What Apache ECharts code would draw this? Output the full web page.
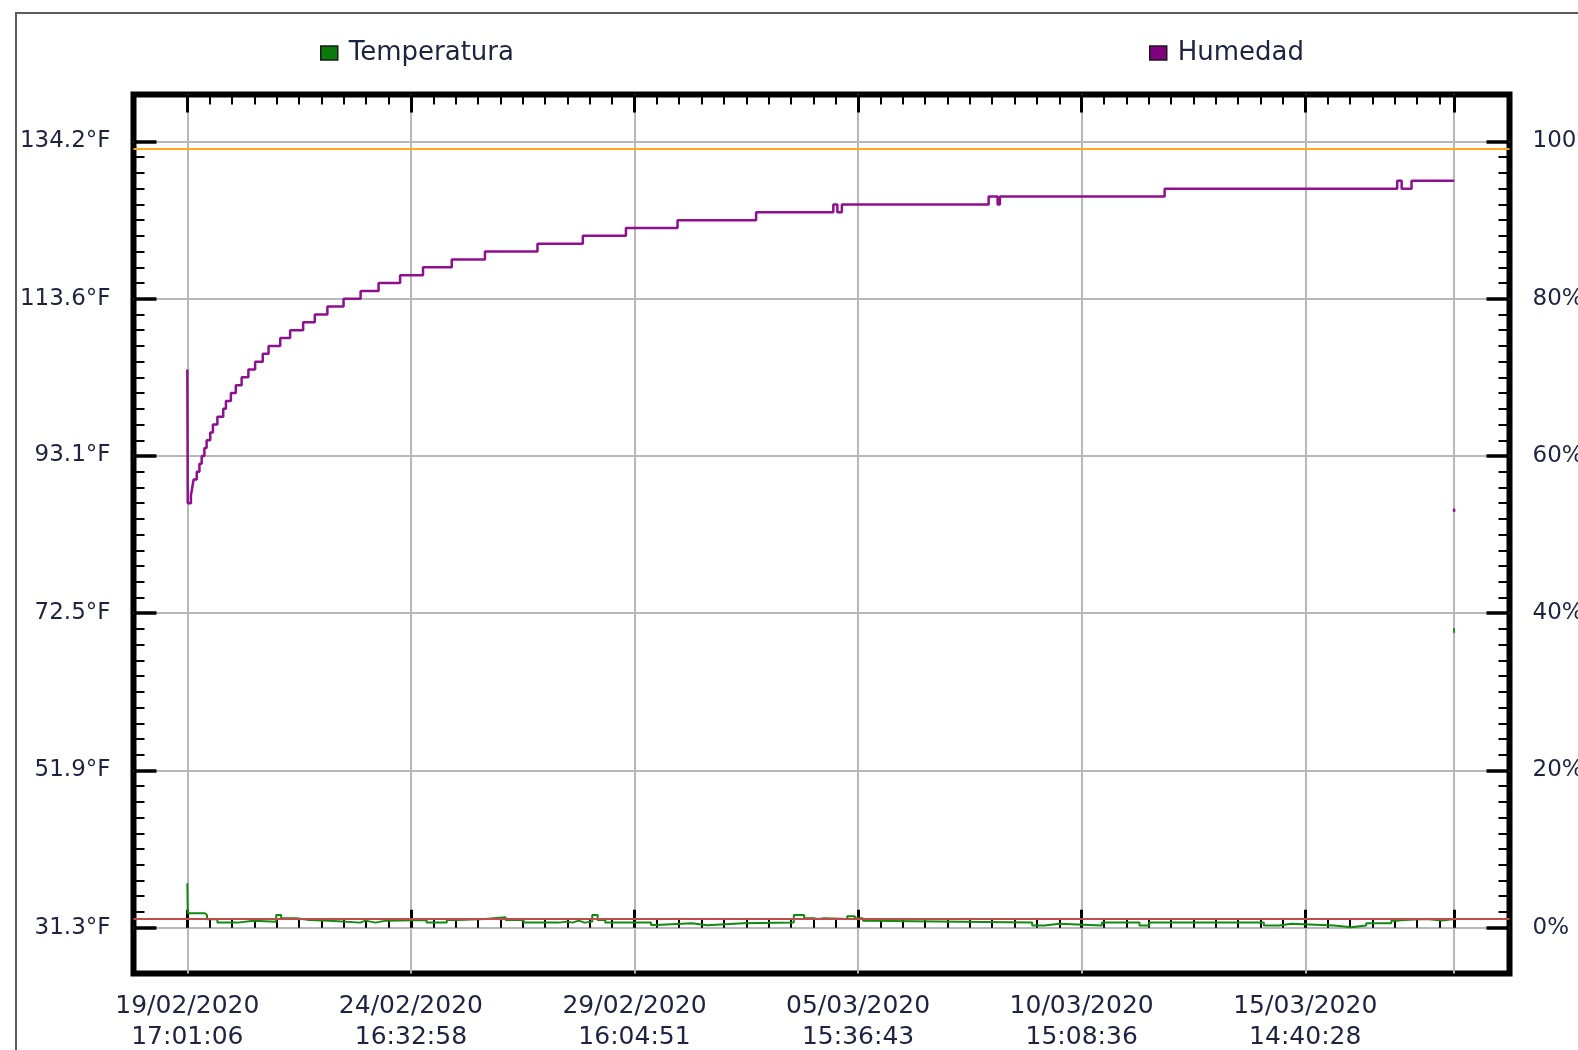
<!DOCTYPE html>
<html>
<head>
<meta charset="utf-8">
<title>Temperatura / Humedad</title>
<script src="https://cdn.jsdelivr.net/npm/echarts@6/dist/echarts.min.js"></script>
<style>
  html, body { margin: 0; padding: 0; background: #fff; }
  #chart { width: 1578px; height: 1050px; }
</style>
</head>
<body>
<div id="chart"></div>
<script>
// tick labels
var xTickLabels = ['19/02/2020 17:01:06', '24/02/2020 16:32:58', '29/02/2020 16:04:51',
  '05/03/2020 15:36:43', '10/03/2020 15:08:36', '15/03/2020 14:40:28'];
var yLeftTickValues = [31.3, 51.9, 72.5, 93.1, 113.6, 134.2];
var yLeftTickLabels = ['31.3°F', '51.9°F', '72.5°F', '93.1°F', '113.6°F', '134.2°F'];
var yRightTickValues = [0, 20, 40, 60, 80, 100];
var yRightTickLabels = ['0%', '20%', '40%', '60%', '80%', '100%'];

// humidity (%) - days since first sample
var humDays = [0, 0.01, 0.08, 0.11, 0.14, 0.21, 0.27, 0.32, 0.38, 0.43, 0.51, 0.57, 0.67, 0.80, 0.86,
  0.97, 1.08, 1.21, 1.36, 1.51, 1.68, 1.81, 2.07, 2.29, 2.58, 2.84, 3.12, 3.48, 3.86, 4.26,
  4.74, 5.25, 5.89, 6.63, 7.80, 8.81, 9.77, 10.92, 12.67, 14.39, 14.48, 14.58, 17.85, 18.05,
  18.10, 21.77, 26.95, 27.05, 27.27, 28.22, 28.22, 28.215, 28.22];
var humValues = [71, 54, 55, 56, 57, 58, 59, 60, 61, 62, 63, 64, 65, 66, 67,
  68, 69, 70, 71, 72, 73, 74, 75, 76, 77, 78, 79, 80, 81, 82,
  83, 84, 85, 86, 87, 88, 89, 90, 91, 92, 91, 92, 93, 92,
  93, 94, 95, 94, 95, 95, null, 53.3, 52.9];

// temperature (°F) - days since first sample
var tempDays = [0, 0.01, 0.39, 0.44, 0.67, 1.12, 1.47, 1.98, 2.09, 2.43, 2.72, 3.17, 3.85, 3.97,
  4.19, 4.42, 5.33, 5.78, 6.01, 6.64, 7.09, 7.49, 8.28, 8.45, 8.58, 8.72, 8.85, 9.02, 9.14,
  9.31, 10.33, 10.44, 11.24, 11.58, 12.38, 13.51, 13.74, 13.95, 14.05, 14.19, 14.70, 14.87,
  15.05, 15.15, 18.82, 19.09, 19.43, 20.37, 21.21, 21.43, 23.98, 24.32, 24.59, 25.54, 25.93,
  26.26, 26.82, 26.93, 27.10, 27.60, 27.95, 28.22, 28.22, 28.215, 28.22];
var tempValues = [37.1, 33.18, 32.96, 32.40, 31.96, 32.22, 32.09, 32.96, 32.53, 32.31, 32.22, 31.96, 32.22, 31.96,
  32.22, 32.31, 31.96, 32.31, 32.44, 32.66, 32.31, 31.96, 32.09, 31.96, 32.22, 31.96, 32.09, 32.96, 32.31,
  31.96, 31.65, 31.87, 31.61, 31.87, 31.96, 32.96, 32.53, 32.44, 32.53, 32.44, 32.80, 32.53,
  32.22, 31.96, 31.57, 31.80, 31.57, 31.96, 31.57, 31.96, 31.57, 31.80, 31.57, 31.35, 31.57,
  31.87, 32.22, 32.30, 32.44, 32.25, 32.44, 32.44, null, 70.5, 69.9];

// alarm lines (°F)
var alarmLow = 32.44;
var alarmHigh = 133.2;

var DAY = 86400000;
var DATA_END_DAYS = 28.22;

function parseStamp(s) {
  var p = s.split(' ');
  var d = p[0].split('/').map(Number);
  var t = p[1].split(':').map(Number);
  return Date.UTC(d[2], d[1] - 1, d[0], t[0], t[1], t[2]);
}
function pad(n) { return (n < 10 ? '0' : '') + n; }

var xTickTimes = xTickLabels.map(parseStamp);
var t0 = xTickTimes[0];
var step = xTickTimes[1] - xTickTimes[0];
var dataEnd = t0 + DATA_END_DAYS * DAY;
var xMajor = xTickTimes.concat([dataEnd]);
var xMinor = [];
for (var k = 1; t0 + k * step / 10 < dataEnd - 1000; k++) {
  if (k % 10 !== 0) xMinor.push(t0 + k * step / 10);
}
var xMin = t0 - 1.199 * DAY;
var xMax = t0 + 29.452 * DAY;

// right axis (%) and left axis (°F) share the same pixel scale
var pctMin = -5.83, pctMax = 105.98;
var fPerPct = (134.2 - 31.3) / 100;
var fMin = 31.3 + pctMin * fPerPct, fMax = 31.3 + pctMax * fPerPct;
var pctMinor = [], fMinor = [];
for (var p = 2; p < 100; p += 2) {
  if (p % 20 !== 0) {
    pctMinor.push(p);
    fMinor.push(31.3 + p * fPerPct);
  }
}

function pairs(days, vals) {
  return days.map(function (d, i) {
    return [t0 + d * DAY, vals[i] == null ? '-' : vals[i]];
  });
}

var textColor = '#1e2440';
var font = 'DejaVu Sans';

function xAxisDef(pos, ticks, len, width, withLabels) {
  return {
    type: 'value', position: pos, min: xMin, max: xMax,
    axisLine: { show: false },
    axisTick: { show: true, inside: true, length: len, customValues: ticks,
      lineStyle: { color: '#000', width: width } },
    axisLabel: withLabels ? {
      show: true, customValues: xTickTimes, fontSize: 25, fontFamily: font, color: textColor,
      lineHeight: 31, margin: 17,
      formatter: function (v) {
        var dt = new Date(v);
        return pad(dt.getUTCDate()) + '/' + pad(dt.getUTCMonth() + 1) + '/' + dt.getUTCFullYear() + '\n' +
          pad(dt.getUTCHours()) + ':' + pad(dt.getUTCMinutes()) + ':' + pad(dt.getUTCSeconds());
      }
    } : { show: false },
    splitLine: { show: withLabels, lineStyle: { color: '#b8b8b8', width: 2 } }
  };
}

function yAxisDef(pos, min, max, ticks, len, width, labelVals, labelTexts, grid) {
  return {
    type: 'value', position: pos, min: min, max: max,
    axisLine: { show: false },
    axisTick: { show: true, inside: true, length: len, customValues: ticks,
      lineStyle: { color: '#000', width: width } },
    axisLabel: labelVals ? {
      show: true, customValues: labelVals, fontSize: 23, fontFamily: font, color: textColor,
      margin: 23,
      formatter: function (v) {
        for (var i = 0; i < labelVals.length; i++) {
          if (Math.abs(labelVals[i] - v) < 0.01) return labelTexts[i];
        }
        return '';
      }
    } : { show: false },
    splitLine: { show: !!grid, lineStyle: { color: '#b8b8b8', width: 2 } }
  };
}

var chart = echarts.init(document.getElementById('chart'), null, { renderer: 'canvas' });
chart.setOption({
  animation: false,
  backgroundColor: '#fff',
  graphic: [{
    type: 'rect', silent: true, z: -10,
    shape: { x: 16, y: 13, width: 1700, height: 1200 },
    style: { fill: 'none', stroke: '#5c5c5c', lineWidth: 2 }
  }],
  legend: [
    { data: ['Temperatura'], left: 315, top: 35, icon: 'rect', itemWidth: 17, itemHeight: 14,
      selectedMode: false, itemStyle: { borderColor: '#1a1a1a', borderWidth: 1.5 },
      textStyle: { fontSize: 26, fontFamily: font, color: textColor, padding: [0, 0, 0, 6] } },
    { data: ['Humedad'], left: 1144, top: 35, icon: 'rect', itemWidth: 17, itemHeight: 14,
      selectedMode: false, itemStyle: { borderColor: '#1a1a1a', borderWidth: 1.5 },
      textStyle: { fontSize: 26, fontFamily: font, color: textColor, padding: [0, 0, 0, 6] } }
  ],
  grid: {
    show: true, left: 133.5, right: 68.5, top: 94.5, bottom: 76.5,
    outerBoundsMode: 'none', containLabel: false,
    borderColor: '#000', borderWidth: 6, backgroundColor: 'transparent'
  },
  xAxis: [
    xAxisDef('bottom', xMajor, 18, 3, true),
    xAxisDef('bottom', xMinor, 9, 2, false),
    xAxisDef('top', xMajor, 18, 3, false),
    xAxisDef('top', xMinor, 10, 2, false)
  ],
  yAxis: [
    yAxisDef('left', fMin, fMax, yLeftTickValues, 23, 3.5, yLeftTickValues, yLeftTickLabels, false),
    yAxisDef('left', fMin, fMax, fMinor, 11, 2, null, null, false),
    yAxisDef('right', pctMin, pctMax, yRightTickValues, 23, 3.5, yRightTickValues, yRightTickLabels, true),
    yAxisDef('right', pctMin, pctMax, pctMinor, 11, 2, null, null, false)
  ],
  series: [
    {
      name: 'Temperatura', type: 'line', step: 'end', xAxisIndex: 0, yAxisIndex: 0,
      showSymbol: false, symbol: 'none', z: 3,
      itemStyle: { color: '#0b7a0b' },
      lineStyle: { color: '#118a11', width: 2 },
      data: pairs(tempDays, tempValues),
      markLine: {
        silent: true, symbol: ['none', 'none'], label: { show: false }, z: 6,
        data: [
          { yAxis: alarmLow, lineStyle: { color: '#c24a4a', width: 2, type: 'solid' } },
          { yAxis: alarmHigh, lineStyle: { color: '#ffa81e', width: 2, type: 'solid' } }
        ]
      }
    },
    {
      name: 'Humedad', type: 'line', step: 'end', xAxisIndex: 0, yAxisIndex: 2,
      showSymbol: false, symbol: 'none', z: 4,
      itemStyle: { color: '#800080' },
      lineStyle: { color: '#8e108e', width: 2.5 },
      data: pairs(humDays, humValues)
    }
  ]
});
</script>
</body>
</html>
